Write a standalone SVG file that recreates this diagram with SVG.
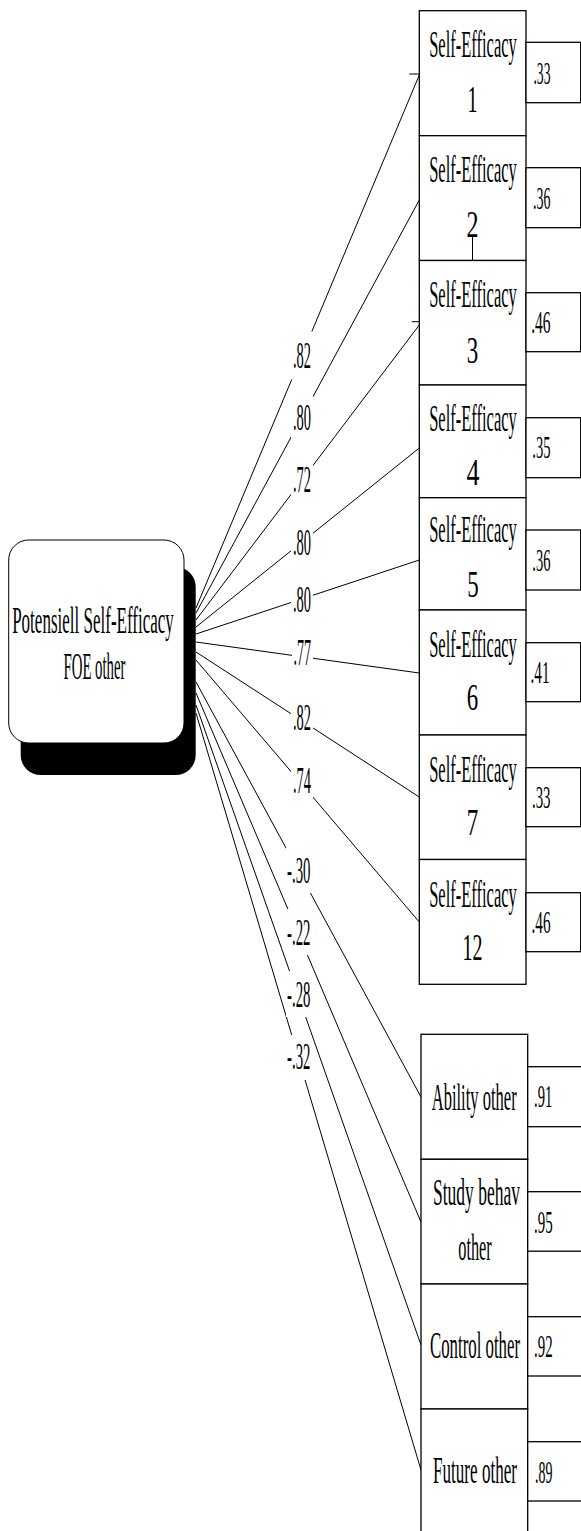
<svg xmlns="http://www.w3.org/2000/svg" width="581" height="1531" viewBox="0 0 581 1531">
<style>
.box{fill:#fff;stroke:#000;stroke-width:1.3}
.t{font-family:"Liberation Serif","Times New Roman",serif;font-size:37px;fill:#000;text-anchor:middle}
.rv{font-family:"Liberation Serif","Times New Roman",serif;font-size:31px;fill:#000;text-anchor:end}
.rvs{font-family:"Liberation Serif","Times New Roman",serif;font-size:31px;fill:#000;text-anchor:start}
.lbl{font-family:"Liberation Serif","Times New Roman",serif;font-size:37px;fill:#000;text-anchor:end}
.bg{fill:#fff}
#connectors line{stroke:#000;stroke-width:1}
</style>
<rect width="581" height="1531" fill="#fff"/>
<g id="connectors">
<line x1="196" y1="608" x2="419.3" y2="75"/>
<line x1="196" y1="613" x2="419.3" y2="200"/>
<line x1="196" y1="620" x2="419.3" y2="325"/>
<line x1="196" y1="627" x2="419.3" y2="448"/>
<line x1="196" y1="634" x2="419.3" y2="560"/>
<line x1="196" y1="642" x2="419.3" y2="673"/>
<line x1="196" y1="652" x2="419.3" y2="797"/>
<line x1="196" y1="660" x2="419.3" y2="922"/>
<line x1="196" y1="682" x2="421" y2="1097"/>
<line x1="196" y1="693" x2="421" y2="1222"/>
<line x1="196" y1="705" x2="421" y2="1345"/>
<line x1="196" y1="713" x2="421" y2="1470"/>
<line x1="409.3" y1="74" x2="419.3" y2="74"/>
<line x1="411.7" y1="321.7" x2="419.3" y2="321.7"/>
</g>
<g id="connector-labels">
<rect class="bg" x="291" y="331.5" width="22" height="48"/><text class="lbl" transform="translate(311 368) scale(0.39 1)">.82</text>
<rect class="bg" x="291" y="393.5" width="22" height="48"/><text class="lbl" transform="translate(311 430) scale(0.39 1)">.80</text>
<rect class="bg" x="291" y="456" width="22" height="48"/><text class="lbl" transform="translate(311 492) scale(0.39 1)">.72</text>
<rect class="bg" x="291" y="518.5" width="22" height="48"/><text class="lbl" transform="translate(311 555) scale(0.39 1)">.80</text>
<rect class="bg" x="291" y="575.5" width="22" height="48"/><text class="lbl" transform="translate(311 612) scale(0.39 1)">.80</text>
<rect class="bg" x="292" y="628.5" width="21" height="48"/><text class="lbl" transform="translate(311 665) scale(0.38 1)">.77</text>
<rect class="bg" x="291" y="693.5" width="22" height="48"/><text class="lbl" transform="translate(311 730) scale(0.39 1)">.82</text>
<rect class="bg" x="291" y="756.5" width="22" height="48"/><text class="lbl" transform="translate(311 793) scale(0.39 1)">.74</text>
<rect class="bg" x="286" y="847" width="26" height="46"/><text class="lbl" transform="translate(310.5 883) scale(0.4 1)">-.30</text>
<rect class="bg" x="286" y="909" width="26" height="46"/><text class="lbl" transform="translate(310.5 945) scale(0.4 1)">-.22</text>
<rect class="bg" x="286" y="971" width="26" height="46"/><text class="lbl" transform="translate(310.5 1007) scale(0.4 1)">-.28</text>
<rect class="bg" x="286" y="1035" width="25" height="45"/><text class="lbl" transform="translate(310.5 1069) scale(0.4 1)">-.32</text>
</g>
<g id="node-latent">
<rect x="20.7" y="567" width="175" height="208" rx="20" ry="20" fill="#000"/>
<rect x="8.7" y="540" width="175.3" height="203" rx="20" ry="20" fill="#fff" stroke="#000" stroke-width="1"/>
<text class="t" transform="translate(93 633) scale(0.46 1)">Potensiell Self-Efficacy</text>
<text class="t" transform="translate(94.5 679) scale(0.4 1)">FOE other</text>
</g>
<g id="node-se1">
<rect class="box" x="419.3" y="10.7" width="106.7" height="125"/>
<text class="t" transform="translate(473 56.7) scale(0.446 1)">Self-Efficacy</text>
<text class="t" transform="translate(472.5 111.7) scale(0.54 1)">1</text>
</g>
<g id="node-se2">
<rect class="box" x="419.3" y="135.7" width="106.7" height="124.8"/>
<text class="t" transform="translate(473 182) scale(0.446 1)">Self-Efficacy</text>
<text class="t" transform="translate(472.5 237) scale(0.65 1)">2</text>
<line x1="472.5" y1="235" x2="472.5" y2="260.5" stroke="#000" stroke-width="1"/>
</g>
<g id="node-se3">
<rect class="box" x="419.3" y="260.5" width="106.7" height="124.5"/>
<text class="t" transform="translate(473 306.7) scale(0.446 1)">Self-Efficacy</text>
<text class="t" transform="translate(472.5 363) scale(0.62 1)">3</text>
</g>
<g id="node-se4">
<rect class="box" x="419.3" y="385" width="106.7" height="112.7"/>
<text class="t" transform="translate(473 430.5) scale(0.446 1)">Self-Efficacy</text>
<text class="t" transform="translate(473 485) scale(0.7 1)">4</text>
</g>
<g id="node-se5">
<rect class="box" x="419.3" y="497.7" width="106.7" height="112.3"/>
<text class="t" transform="translate(473 542) scale(0.446 1)">Self-Efficacy</text>
<text class="t" transform="translate(473 597) scale(0.62 1)">5</text>
</g>
<g id="node-se6">
<rect class="box" x="419.3" y="610" width="106.7" height="125"/>
<text class="t" transform="translate(473 656.5) scale(0.446 1)">Self-Efficacy</text>
<text class="t" transform="translate(472.5 710) scale(0.62 1)">6</text>
</g>
<g id="node-se7">
<rect class="box" x="419.3" y="735" width="106.7" height="124.5"/>
<text class="t" transform="translate(473 781.5) scale(0.446 1)">Self-Efficacy</text>
<text class="t" transform="translate(472.5 835) scale(0.62 1)">7</text>
</g>
<g id="node-se12">
<rect class="box" x="419.3" y="859.5" width="106.7" height="124.8"/>
<text class="t" transform="translate(473 906.5) scale(0.446 1)">Self-Efficacy</text>
<text class="t" transform="translate(472.5 960) scale(0.54 1)">12</text>
</g>
<g id="node-res-se1"><rect class="box" x="526" y="42.3" width="54.7" height="60.4"/><text class="rv" transform="translate(550.5 83.5) scale(0.44 1)">.33</text></g>
<g id="node-res-se2"><rect class="box" x="526" y="167.7" width="54.7" height="60"/><text class="rv" transform="translate(550.5 208.5) scale(0.45 1)">.36</text></g>
<g id="node-res-se3"><rect class="box" x="526" y="292.7" width="54.7" height="59"/><text class="rv" transform="translate(550.5 333) scale(0.5 1)">.46</text></g>
<g id="node-res-se4"><rect class="box" x="526" y="417.7" width="54.7" height="60"/><text class="rv" transform="translate(550.5 458) scale(0.47 1)">.35</text></g>
<g id="node-res-se5"><rect class="box" x="526" y="530" width="54.7" height="60"/><text class="rv" transform="translate(550.5 570.5) scale(0.47 1)">.36</text></g>
<g id="node-res-se6"><rect class="box" x="526" y="642.7" width="54.7" height="59"/><text class="rv" transform="translate(549.5 682.5) scale(0.49 1)">.41</text></g>
<g id="node-res-se7"><rect class="box" x="526" y="767.7" width="54.7" height="59"/><text class="rv" transform="translate(550.5 807.5) scale(0.48 1)">.33</text></g>
<g id="node-res-se12"><rect class="box" x="526" y="892.7" width="54.7" height="59"/><text class="rv" transform="translate(550.5 932.5) scale(0.49 1)">.46</text></g>
<g id="node-ability">
<rect class="box" x="421" y="1034.3" width="106.7" height="125"/>
<text class="t" transform="translate(474.2 1110) scale(0.447 1)">Ability other</text>
</g>
<g id="node-study">
<rect class="box" x="421" y="1159.3" width="106.7" height="124.7"/>
<text class="t" transform="translate(476.5 1205) scale(0.473 1)">Study behav</text>
<text class="t" transform="translate(475 1260) scale(0.44 1)">other</text>
</g>
<g id="node-control">
<rect class="box" x="421" y="1284" width="106.7" height="125"/>
<text class="t" transform="translate(475 1358) scale(0.454 1)">Control other</text>
</g>
<g id="node-future">
<rect class="box" x="421" y="1409" width="106.7" height="130"/>
<text class="t" transform="translate(475 1483) scale(0.462 1)">Future other</text>
</g>
<g id="node-res-ability"><rect class="box" x="527.7" y="1066.7" width="60" height="60"/><text class="rvs" transform="translate(534 1106.7) scale(0.47 1)">.91</text></g>
<g id="node-res-study"><rect class="box" x="527.7" y="1191.7" width="60" height="59.5"/><text class="rvs" transform="translate(534 1232.5) scale(0.48 1)">.95</text></g>
<g id="node-res-control"><rect class="box" x="527.7" y="1316.7" width="60" height="59.3"/><text class="rvs" transform="translate(534 1357) scale(0.48 1)">.92</text></g>
<g id="node-res-future"><rect class="box" x="527.7" y="1441.7" width="60" height="59.3"/><text class="rvs" transform="translate(535 1482.5) scale(0.45 1)">.89</text></g>
</svg>
